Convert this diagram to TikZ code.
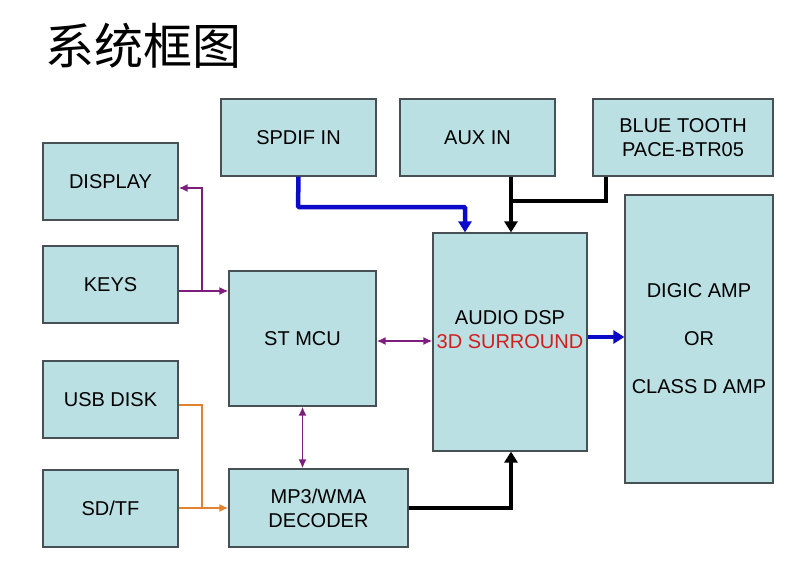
\documentclass[tikz,border=0pt]{standalone}
\usepackage{fontspec}
\setmainfont{Liberation Sans}
\newfontfamily\cjk{Noto Sans CJK SC}
\usetikzlibrary{arrows.meta}
\definecolor{boxfill}{RGB}{186,224,227}
\definecolor{boxline}{RGB}{70,80,85}
\definecolor{pline}{RGB}{125,30,125}
\definecolor{oline}{RGB}{225,130,50}
\definecolor{bline}{RGB}{10,10,200}
\definecolor{redtxt}{RGB}{210,30,30}
\begin{document}
\begin{tikzpicture}[x=1pt,y=-1pt,
  box/.style={draw=boxline, line width=1.2pt, fill=boxfill, align=center,
    font=\fontsize{20}{24}\selectfont, inner sep=0pt},
  pl/.style={draw=pline, line width=1.8pt, {Latex[length=9pt,width=8pt]}-{Latex[length=9pt,width=8pt]}},
  pone/.style={draw=pline, line width=1.8pt, -{Latex[length=9pt,width=8pt]}},
  ol/.style={draw=oline, line width=1.8pt},
  thick1/.style={line width=4.5pt, -{Triangle[length=11pt,width=13pt]}},
]
\useasboundingbox (0,0) rectangle (805,565);
\fill[white] (0,0) rectangle (805,565);

\node[anchor=west, font=\cjk\fontsize{49}{49}\selectfont] (title) at (42,46) {系统框图};

\node[box, minimum width=135pt, minimum height=77pt] (display) at (110.5,181.5) {DISPLAY};
\node[box, minimum width=135pt, minimum height=77pt] (keys) at (110.5,284.5) {KEYS};
\node[box, minimum width=135pt, minimum height=77pt] (usb) at (110.5,399.5) {USB DISK};
\node[box, minimum width=135pt, minimum height=77pt] (sdtf) at (110.5,508.5) {SD/TF};
\node[box, minimum width=147pt, minimum height=135pt] (mcu) at (302.5,338.5) {ST MCU};
\node[box, minimum width=179pt, minimum height=78pt] (mp3) at (318.5,508) {MP3/WMA\\DECODER};
\node[box, minimum width=155pt, minimum height=77pt] (spdif) at (298.5,137.5) {SPDIF IN};
\node[box, minimum width=155pt, minimum height=77pt] (aux) at (477.5,137.5) {AUX IN};
\node[box, minimum width=180pt, minimum height=77pt] (bt) at (683,137.5) {BLUE TOOTH\\PACE-BTR05};
\node[box, minimum width=154pt, minimum height=218pt,
  label={[font=\fontsize{20}{24}\selectfont, align=center, yshift=12pt]center:AUDIO DSP\\\textcolor{redtxt}{3D SURROUND}}] (dsp) at (510,342) {};
\node[box, minimum width=148pt, minimum height=288pt] (amp) at (699,339) {DIGIC AMP\\[24pt]OR\\[24pt]CLASS D AMP};

% purple
\coordinate (pj) at (202,291);
\draw[pone] (keys.east |- pj) -- (mcu.west |- pj);
\draw[pone] (pj) |- (display.east |- 0,188);
\draw[pl] (mcu.east |- 0,341) -- (dsp.west |- 0,341);
\draw[pl] (mcu.south) -- (mcu.south |- mp3.north);

% orange
\coordinate (oj) at (202,508);
\draw[ol] (usb.east |- 0,405) -| (oj);
\draw[ol, -{Latex[length=9pt,width=8pt]}] (sdtf.east |- oj) -- (mp3.west |- oj);

% blue thick
\draw[bline, thick1, rounded corners=1pt] (spdif.south) -- (298,207) -| (dsp.north -| 465,0);
\draw[bline, thick1] (dsp.east |- 0,337) -- (amp.west |- 0,337);

% black thick
\coordinate (bj) at (511,201);
\draw[black, thick1] (aux.south -| bj) -- (dsp.north -| bj);
\draw[black, line width=4.5pt] (bt.south -| 606,0) |- (bj);
\draw[black, thick1] (mp3.east) -| (dsp.south -| bj);
\end{tikzpicture}
\end{document}
